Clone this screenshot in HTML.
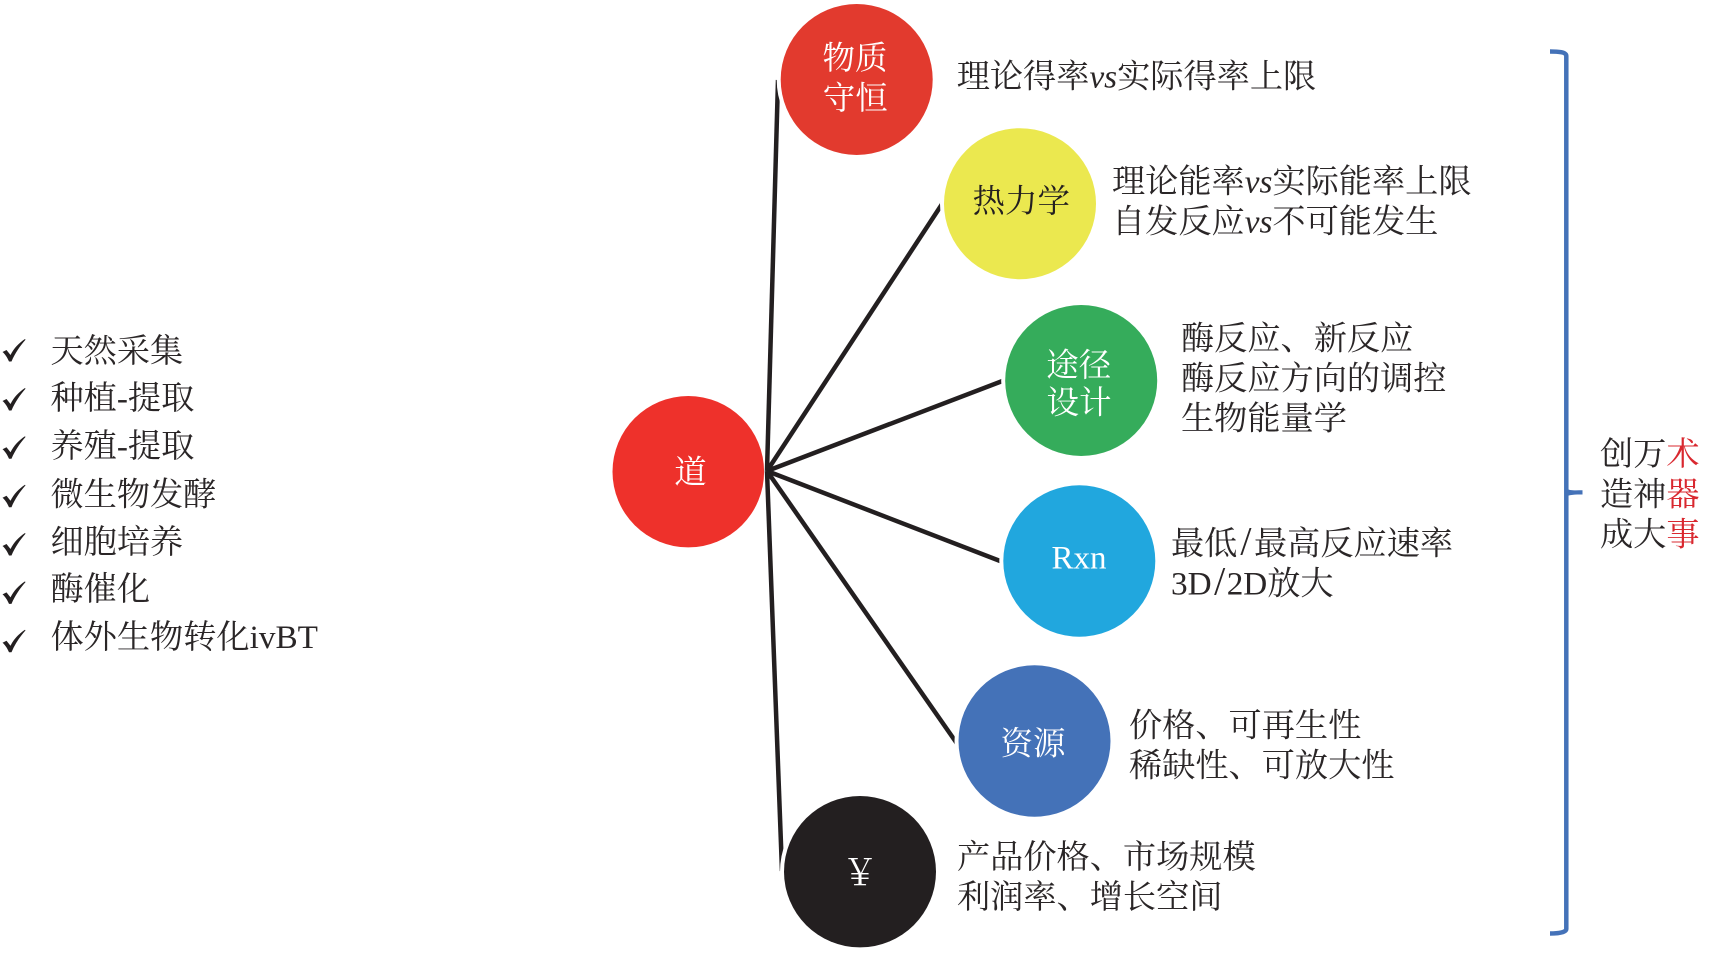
<!DOCTYPE html>
<html lang="zh">
<head>
<meta charset="utf-8">
<title>Diagram</title>
<style>
html,body{margin:0;padding:0;background:#fff;width:1717px;height:954px;overflow:hidden}
svg{display:block}
text{font-family:"Liberation Serif","Noto Serif CJK SC",serif;font-size:33.2px;fill:#2a2627}
.w{fill:#fff;font-size:32.5px;text-anchor:middle}
.i{font-style:italic}
.r{fill:#d9282f}
.s{font-size:40px}
</style>
</head>
<body>
<svg width="1717" height="954" viewBox="0 0 1717 954" xmlns="http://www.w3.org/2000/svg">
<rect width="1717" height="954" fill="#fff"/>

<!-- connectors -->
<g stroke="#231f20" stroke-width="4.5" fill="none">
<line x1="767" y1="471" x2="778" y2="80"/>
<line x1="767" y1="471" x2="946" y2="198"/>
<line x1="767" y1="471" x2="1005" y2="380"/>
<line x1="767" y1="471" x2="1004" y2="562.5"/>
<line x1="767" y1="471" x2="958" y2="745"/>
<line x1="767" y1="471" x2="782" y2="871"/>
</g>

<!-- white halos that cut the connector ends -->
<g fill="#fff">
<circle cx="856.7" cy="79.5" r="80"/>
<circle cx="1020" cy="203.7" r="80"/>
<circle cx="1081.2" cy="380.5" r="80"/>
<circle cx="1079.3" cy="561" r="80"/>
<circle cx="1034.5" cy="741" r="80"/>
<circle cx="860" cy="871.7" r="80"/>
</g>

<!-- circles -->
<ellipse cx="688.3" cy="471.7" rx="75.8" ry="75.7" fill="#ee312b"/>
<ellipse cx="856.7" cy="79.5" rx="76" ry="75.5" fill="#e23a2e"/>
<ellipse cx="1020" cy="203.7" rx="76" ry="75.5" fill="#ebe84f"/>
<ellipse cx="1081.2" cy="380.5" rx="76" ry="75.5" fill="#35ac5b"/>
<ellipse cx="1079.3" cy="561" rx="76" ry="75.7" fill="#21a7de"/>
<ellipse cx="1034.5" cy="741" rx="76" ry="75.7" fill="#4472b8"/>
<ellipse cx="860" cy="871.7" rx="76" ry="75.7" fill="#231f20"/>

<!-- circle labels -->
<text class="w" x="690.5" y="483">道</text>
<text class="w" x="855" y="69">物质</text>
<text class="w" x="855.3" y="109">守恒</text>
<text class="w" x="1021.2" y="212" style="fill:#231f20">热力学</text>
<text class="w" x="1078.7" y="376">途径</text>
<text class="w" x="1079" y="413.5">设计</text>
<text class="w" x="1079" y="568.3" style="font-size:33px">Rxn</text>
<text class="w" x="1033" y="754.5">资源</text>
<text class="w" x="860" y="885" style="font-size:36px">￥</text>

<!-- descriptions -->
<text x="956.7" y="87.5">理论得率<tspan class="i">vs</tspan>实际得率上限</text>
<text x="1112" y="192.5">理论能率<tspan class="i">vs</tspan>实际能率上限</text>
<text x="1112" y="232.5">自发反应<tspan class="i">vs</tspan>不可能发生</text>
<text x="1181" y="349.5">酶反应、新反应</text>
<text x="1181" y="389.5">酶反应方向的调控</text>
<text x="1181" y="429.5">生物能量学</text>
<text x="1171" y="554.5">最低<tspan class="s" dx="3">/</tspan><tspan dx="2.5">最高反应速率</tspan></text>
<text x="1171" y="594.5">3D<tspan class="s" dx="2.5">/</tspan><tspan dx="1.5">2D放大</tspan></text>
<text x="1129" y="736.5">价格、可再生性</text>
<text x="1129" y="776.5">稀缺性、可放大性</text>
<text x="957" y="868">产品价格、市场规模</text>
<text x="957" y="908">利润率、增长空间</text>

<!-- left list -->
<text x="50.5" y="362">天然采集</text>
<text x="50.5" y="409">种植-提取</text>
<text x="50.5" y="457">养殖-提取</text>
<text x="50.5" y="505.5">微生物发酵</text>
<text x="50.5" y="553">细胞培养</text>
<text x="50.5" y="600">酶催化</text>
<text x="50.5" y="648">体外生物转化ivBT</text>

<!-- check marks -->
<defs>
<path id="c" d="M2.5 352 L6.5 350 L10.5 355 C14 348 19 343 25 339 L25.5 339.7 C20 346 15 353 11.5 361.5 L9 361.5 C7 357 5 354 2.5 352Z" fill="#231f20"/>
</defs>
<use href="#c"/>
<use href="#c" y="49"/>
<use href="#c" y="97.3"/>
<use href="#c" y="145.7"/>
<use href="#c" y="194"/>
<use href="#c" y="242.4"/>
<use href="#c" y="290.7"/>

<!-- bracket -->
<path d="M1550 51.5 C1558 51.5 1566.3 52 1566.3 56 L1566.3 929 C1566.3 932.5 1558 933.5 1550 933.5" fill="none" stroke="#4472b8" stroke-width="4.5"/>
<path d="M1566 488 C1569 491 1575 490.3 1582.5 490.3 L1582.5 494.5 C1575 494.5 1569 494.5 1566 497Z" fill="#4472b8"/>

<!-- right text -->
<text x="1600" y="465">创万<tspan class="r">术</tspan></text>
<text x="1600" y="505.5">造神<tspan class="r">器</tspan></text>
<text x="1600" y="545.5">成大<tspan class="r">事</tspan></text>
</svg>
</body>
</html>
